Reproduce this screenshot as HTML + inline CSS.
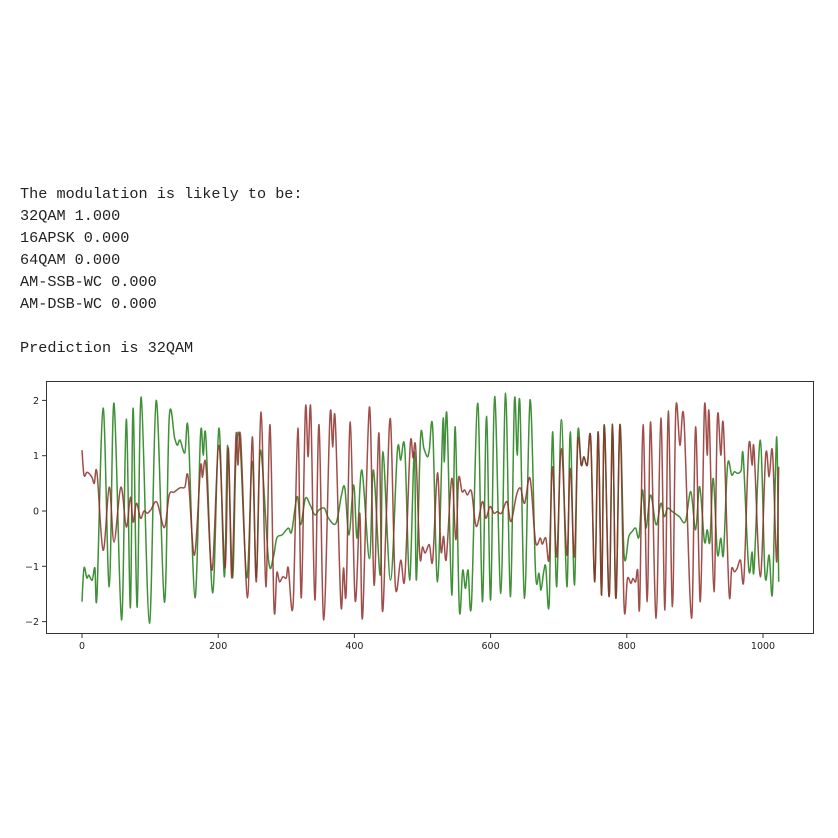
<!DOCTYPE html>
<html><head><meta charset="utf-8">
<style>
body{margin:0;background:#fff;width:838px;height:838px;overflow:hidden;position:relative}
#txt{position:absolute;left:20px;top:183px;font-family:"Liberation Mono","Noto Sans CJK SC",monospace;font-size:15.2px;line-height:22px;color:#222;white-space:pre}
svg{position:absolute;left:0;top:0}
</style></head><body>
<div id="txt">The modulation is likely to be:
32QAM 1.000
16APSK 0.000
64QAM 0.000
AM-SSB-WC 0.000
AM-DSB-WC 0.000

Prediction is 32QAM</div>
<svg id="chart" width="838" height="838"></svg>
<script>
const xTicks=[0,200,400,600,800,1000];
const yTicks=[-2,-1,0,1,2];
const greenIdx=[0,3,7,10,15,19,22,31,40,47,58,65,71,75,81,87,99,109,121,128,136,140,144,151,156,166,174,178,182,192,201,209,214,221,226,232,242,250,256,262,274,281,286,294,303,308,316,321,328,335,342,348,356,362,373,381,386,392,399,404,411,422,428,438,442,453,463,468,474,481,488,491,497,502,507,510,515,522,530,532,536,543,548,554,559,563,567,572,581,588,594,600,606,615,622,629,635,639,643,650,658,666,671,674,678,681,686,691,697,704,712,717,723,728,733,737,742,747,753,758,763,767,774,779,784,790,796,803,808,813,818,823,828,835,843,850,855,860,867,877,886,894,901,907,914,918,922,927,933,938,942,948,954,958,963,968,971,979,984,987,996,1003,1009,1014,1020,1023];
const greenVal=[-1.64,-1.03,-1.21,-1.16,-1.25,-1.03,-1.52,1.86,-1.37,1.95,-1.97,1.66,-1.75,1.86,-1.74,2.06,-2.03,2.0,-1.65,1.68,1.32,1.19,1.28,1.05,1.46,-1.57,1.37,1.01,1.32,-1.48,1.5,-1.19,1.19,-1.21,0.96,1.25,-1.21,0.9,-1.2,1.1,-0.9,-0.83,-0.49,-0.43,-0.31,-0.37,0.26,-0.25,0.23,0.11,-0.07,0.02,0.05,-0.13,-0.22,0.29,0.41,-0.43,0.47,-0.49,0.74,-0.86,0.74,-1.16,1.07,-1.25,1.07,0.92,1.13,-1.25,1.07,-1.25,1.31,1.13,0.98,1.1,1.5,-1.28,1.61,0.89,1.71,-1.52,1.52,-1.76,-1.07,-1.4,-1.07,-1.67,1.95,-1.64,1.71,-1.61,2.07,-1.49,2.13,-1.55,1.98,1.01,1.95,-1.58,2.01,-1.1,-1.13,-1.43,-1.1,-1.01,-1.67,1.43,-1.37,1.65,-1.37,1.43,-1.34,1.41,0.83,0.98,0.83,1.31,-1.28,1.43,-1.52,1.56,-1.55,1.57,-1.58,1.56,-0.8,-0.46,-0.37,-0.31,-0.46,0.38,-0.31,0.29,-0.25,0.14,-0.1,0.05,-0.01,-0.1,-0.19,0.35,-0.34,0.44,-0.55,-0.34,-0.55,0.59,-0.77,-0.49,-0.77,0.83,0.65,0.71,0.68,0.74,0.98,-1.04,-0.74,-1.04,1.28,-1.16,-0.8,-1.46,1.34,-1.28];
const redIdx=[0,3,7,11,15,18,22,31,40,47,57,65,71,75,80,86,91,96,101,110,121,128,135,144,151,156,165,174,177,182,191,201,210,215,220,226,229,233,243,250,256,263,270,276,282,286,290,295,300,303,310,317,322,328,332,336,342,348,355,364,368,372,380,384,388,394,401,408,412,422,429,436,441,447,453,460,468,474,482,486,490,496,500,504,510,515,522,527,531,535,543,549,553,558,562,566,572,579,588,593,599,605,610,616,624,630,638,644,650,658,666,673,676,681,686,691,697,704,712,717,723,728,733,737,742,747,753,758,763,767,774,779,784,790,796,801,806,809,813,816,819,824,830,835,843,850,856,861,867,872,878,884,895,901,908,914,918,921,928,933,938,942,950,954,958,962,967,972,979,984,987,996,1004,1009,1014,1020,1023];
const redVal=[1.1,0.65,0.7,0.67,0.6,0.5,0.69,-0.71,0.43,-0.56,0.43,-0.29,0.25,-0.2,0.14,-0.13,0,-0.04,0.02,0.16,-0.3,0.29,0.34,0.42,0.43,0.61,-0.8,0.78,0.61,0.83,-1.07,1.19,-1.03,1.14,-1.21,1.34,0.83,1.32,-1.57,1.34,-1.28,1.79,-1.37,1.56,-1.75,-1.12,-1.28,-1.19,-1.21,-1.03,-1.7,1.5,-1.57,1.83,0.98,1.83,-1.61,1.56,-1.97,1.68,1.16,1.63,-1.66,-1.03,-1.46,1.61,-1.61,-0.04,-1.92,1.88,-1.34,1.41,-1.79,-0.04,1.65,-1.34,-0.89,-1.21,1.19,0.96,1.14,-0.8,-0.65,-0.76,-0.61,-0.89,0.69,-0.71,-0.46,-0.86,0.59,-0.52,0.59,0.35,0.38,0.29,0.35,-0.28,0.17,-0.13,0.08,-0.04,-0.01,-0.04,0.17,-0.19,0.29,0.41,0.14,0.59,-0.55,-0.49,-0.6,-0.49,-0.86,0.8,-0.83,1.13,-0.8,0.77,-0.83,1.27,0.83,0.98,0.83,1.31,-1.28,1.43,-1.52,1.56,-1.55,1.57,-1.58,1.56,-1.73,-1.22,-1.31,-1.22,-1.28,-1.07,-1.7,1.56,-1.64,1.61,-1.94,1.68,-1.79,1.81,-1.73,1.83,1.19,1.65,-1.94,1.52,-1.64,1.86,1.01,1.74,-1.46,1.68,1.01,1.52,-1.46,-1.04,-1.1,-1.04,-0.89,-1.22,1.16,0.83,1.1,-1.19,1.01,0.62,1.07,-0.92,0.8];

const L=46,R=814,T=381,B=634;
const sx=v=>82+v*(763-82)/1000;
const sy=v=>511-v*55.3;
const svg=document.getElementById('chart');
const NS='http://www.w3.org/2000/svg';
function mk(t,a){const e=document.createElementNS(NS,t);for(const k in a)e.setAttribute(k,a[k]);svg.appendChild(e);return e;}
function path(idx,val){
  const p=idx.map((x,i)=>[sx(x),sy(val[i])]);
  let d='M'+p[0][0].toFixed(1)+' '+p[0][1].toFixed(1);
  for(let i=0;i<p.length-1;i++){
    const p0=p[Math.max(0,i-1)],p1=p[i],p2=p[i+1],p3=p[Math.min(p.length-1,i+2)];
    const c1=[p1[0]+(p2[0]-p0[0])/6,p1[1]+(p2[1]-p0[1])/6];
    const c2=[p2[0]-(p3[0]-p1[0])/6,p2[1]-(p3[1]-p1[1])/6];
    d+=' C'+c1[0].toFixed(1)+' '+c1[1].toFixed(1)+' '+c2[0].toFixed(1)+' '+c2[1].toFixed(1)+' '+p2[0].toFixed(1)+' '+p2[1].toFixed(1);
  }
  return d;
}
const g=mk('path',{d:path(greenIdx,greenVal),fill:'none',stroke:'#2a8420','stroke-width':1.5,'stroke-opacity':0.9});


const r=mk('path',{d:path(redIdx,redVal),fill:'none',stroke:'#8e2f2a','stroke-width':1.5,'stroke-opacity':0.85});


const fr=mk('rect',{x:L+0.5,y:T+0.5,width:R-L-1,height:B-T-1,fill:'none',stroke:'#333','stroke-width':1});


xTicks.forEach(v=>{
  const x=sx(v);
  const tk=mk('line',{x1:x,x2:x,y1:B,y2:B+4,stroke:'#333'});
  
  
  const t=mk('text',{x:x,y:B+15,'text-anchor':'middle','font-family':'DejaVu Sans, sans-serif','font-size':9.5,fill:'#222'});
  t.textContent=v;
  
  
});
yTicks.forEach(v=>{
  const y=sy(v);
  const tk=mk('line',{x1:L-4,x2:L,y1:y,y2:y,stroke:'#333'});
  
  
  const t=mk('text',{x:L-7,y:y+3.5,'text-anchor':'end','font-family':'DejaVu Sans, sans-serif','font-size':9.5,fill:'#222'});
  t.textContent=v<0?'\u2212'+(-v):v;
  
  
});
</script>
</body></html>
